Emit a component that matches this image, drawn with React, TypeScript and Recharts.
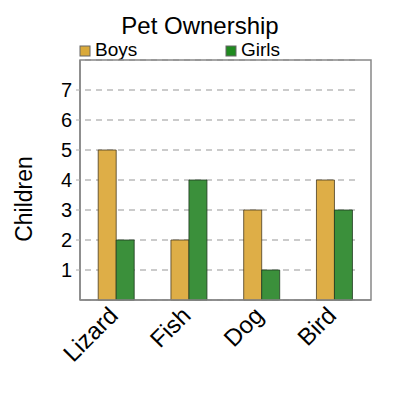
import {
  BarChart,
  Bar,
  XAxis,
  YAxis,
  CartesianGrid,
  ReferenceArea,
} from 'recharts';

const pets = ['Lizard', 'Fish', 'Dog', 'Bird'];
const boys = [5, 2, 3, 4];
const girls = [2, 4, 1, 3];
const yTicks = [1, 2, 3, 4, 5, 6, 7];

const FONT = '"Liberation Sans", Arial, sans-serif';
const BOYS_FILL = '#DEAE47';
const GIRLS_FILL = '#3B903B';

const data = pets.map((pet, i) => ({ pet, boys: boys[i], girls: girls[i] }));

function PetTick(props: any) {
  const { x, payload } = props;
  const ax = x + 3;
  const ay = 317;
  return (
    <text
      x={ax}
      y={ay}
      transform={`rotate(-45, ${ax}, ${ay})`}
      textAnchor="end"
      fontSize={24}
      fontFamily={FONT}
      fill="#000"
    >
      {payload.value}
    </text>
  );
}

function GridLine(props: any) {
  const { x1, x2, y1, y2 } = props;
  return (
    <line
      x1={x1 + 5}
      x2={x2 - 11}
      y1={y1}
      y2={y2}
      stroke="#bbb"
      strokeWidth={1.5}
      strokeDasharray="6 5"
    />
  );
}

export default function App() {
  return (
    <div style={{ position: 'absolute', left: 0, top: 0 }}>
      <BarChart
        width={400}
        height={400}
        data={data}
        margin={{ top: 60, right: 29, bottom: 0, left: 0 }}
        barCategoryGap="25%"
        barGap={0}
      >
        <CartesianGrid vertical={false} horizontal={GridLine} />
        <XAxis
          dataKey="pet"
          height={100}
          axisLine={{ stroke: '#888', strokeWidth: 1.5 }}
          tickLine={false}
          tick={<PetTick />}
          interval={0}
        />
        <YAxis
          width={80}
          domain={[0, 8]}
          ticks={yTicks}
          axisLine={{ stroke: '#888', strokeWidth: 1.5 }}
          tickLine={{ stroke: '#aaa' }}
          tickSize={4}
          tickMargin={4}
          tick={{ fontSize: 20, fontFamily: FONT, fill: '#000' }}
        />
        <ReferenceArea
          y1={0}
          y2={8}
          fill="none"
          stroke="#888"
          strokeWidth={1.5}
          ifOverflow="visible"
        />
        <Bar
          dataKey="boys"
          fill={BOYS_FILL}
          stroke="#4a3d22"
          strokeOpacity={0.8}
          isAnimationActive={false}
        />
        <Bar
          dataKey="girls"
          fill={GIRLS_FILL}
          stroke="#1f3a1f"
          strokeOpacity={0.8}
          isAnimationActive={false}
        />
        <text
          x={200}
          y={34}
          textAnchor="middle"
          fontSize={24}
          fontFamily={FONT}
          fill="#000"
        >
          Pet Ownership
        </text>
        <rect x={80} y={46} width={10} height={10} fill="#D9A93A" stroke="#666" />
        <text x={95} y={56} fontSize={19} fontFamily={FONT} fill="#000">
          Boys
        </text>
        <rect x={226} y={46} width={10} height={10} fill="#1F8A1F" stroke="#666" />
        <text x={241} y={56} fontSize={19} fontFamily={FONT} fill="#000">
          Girls
        </text>
        <text
          x={32}
          y={199}
          transform="rotate(-90, 32, 199)"
          textAnchor="middle"
          fontSize={23}
          fontFamily={FONT}
          fill="#000"
        >
          Children
        </text>
      </BarChart>
    </div>
  );
}
